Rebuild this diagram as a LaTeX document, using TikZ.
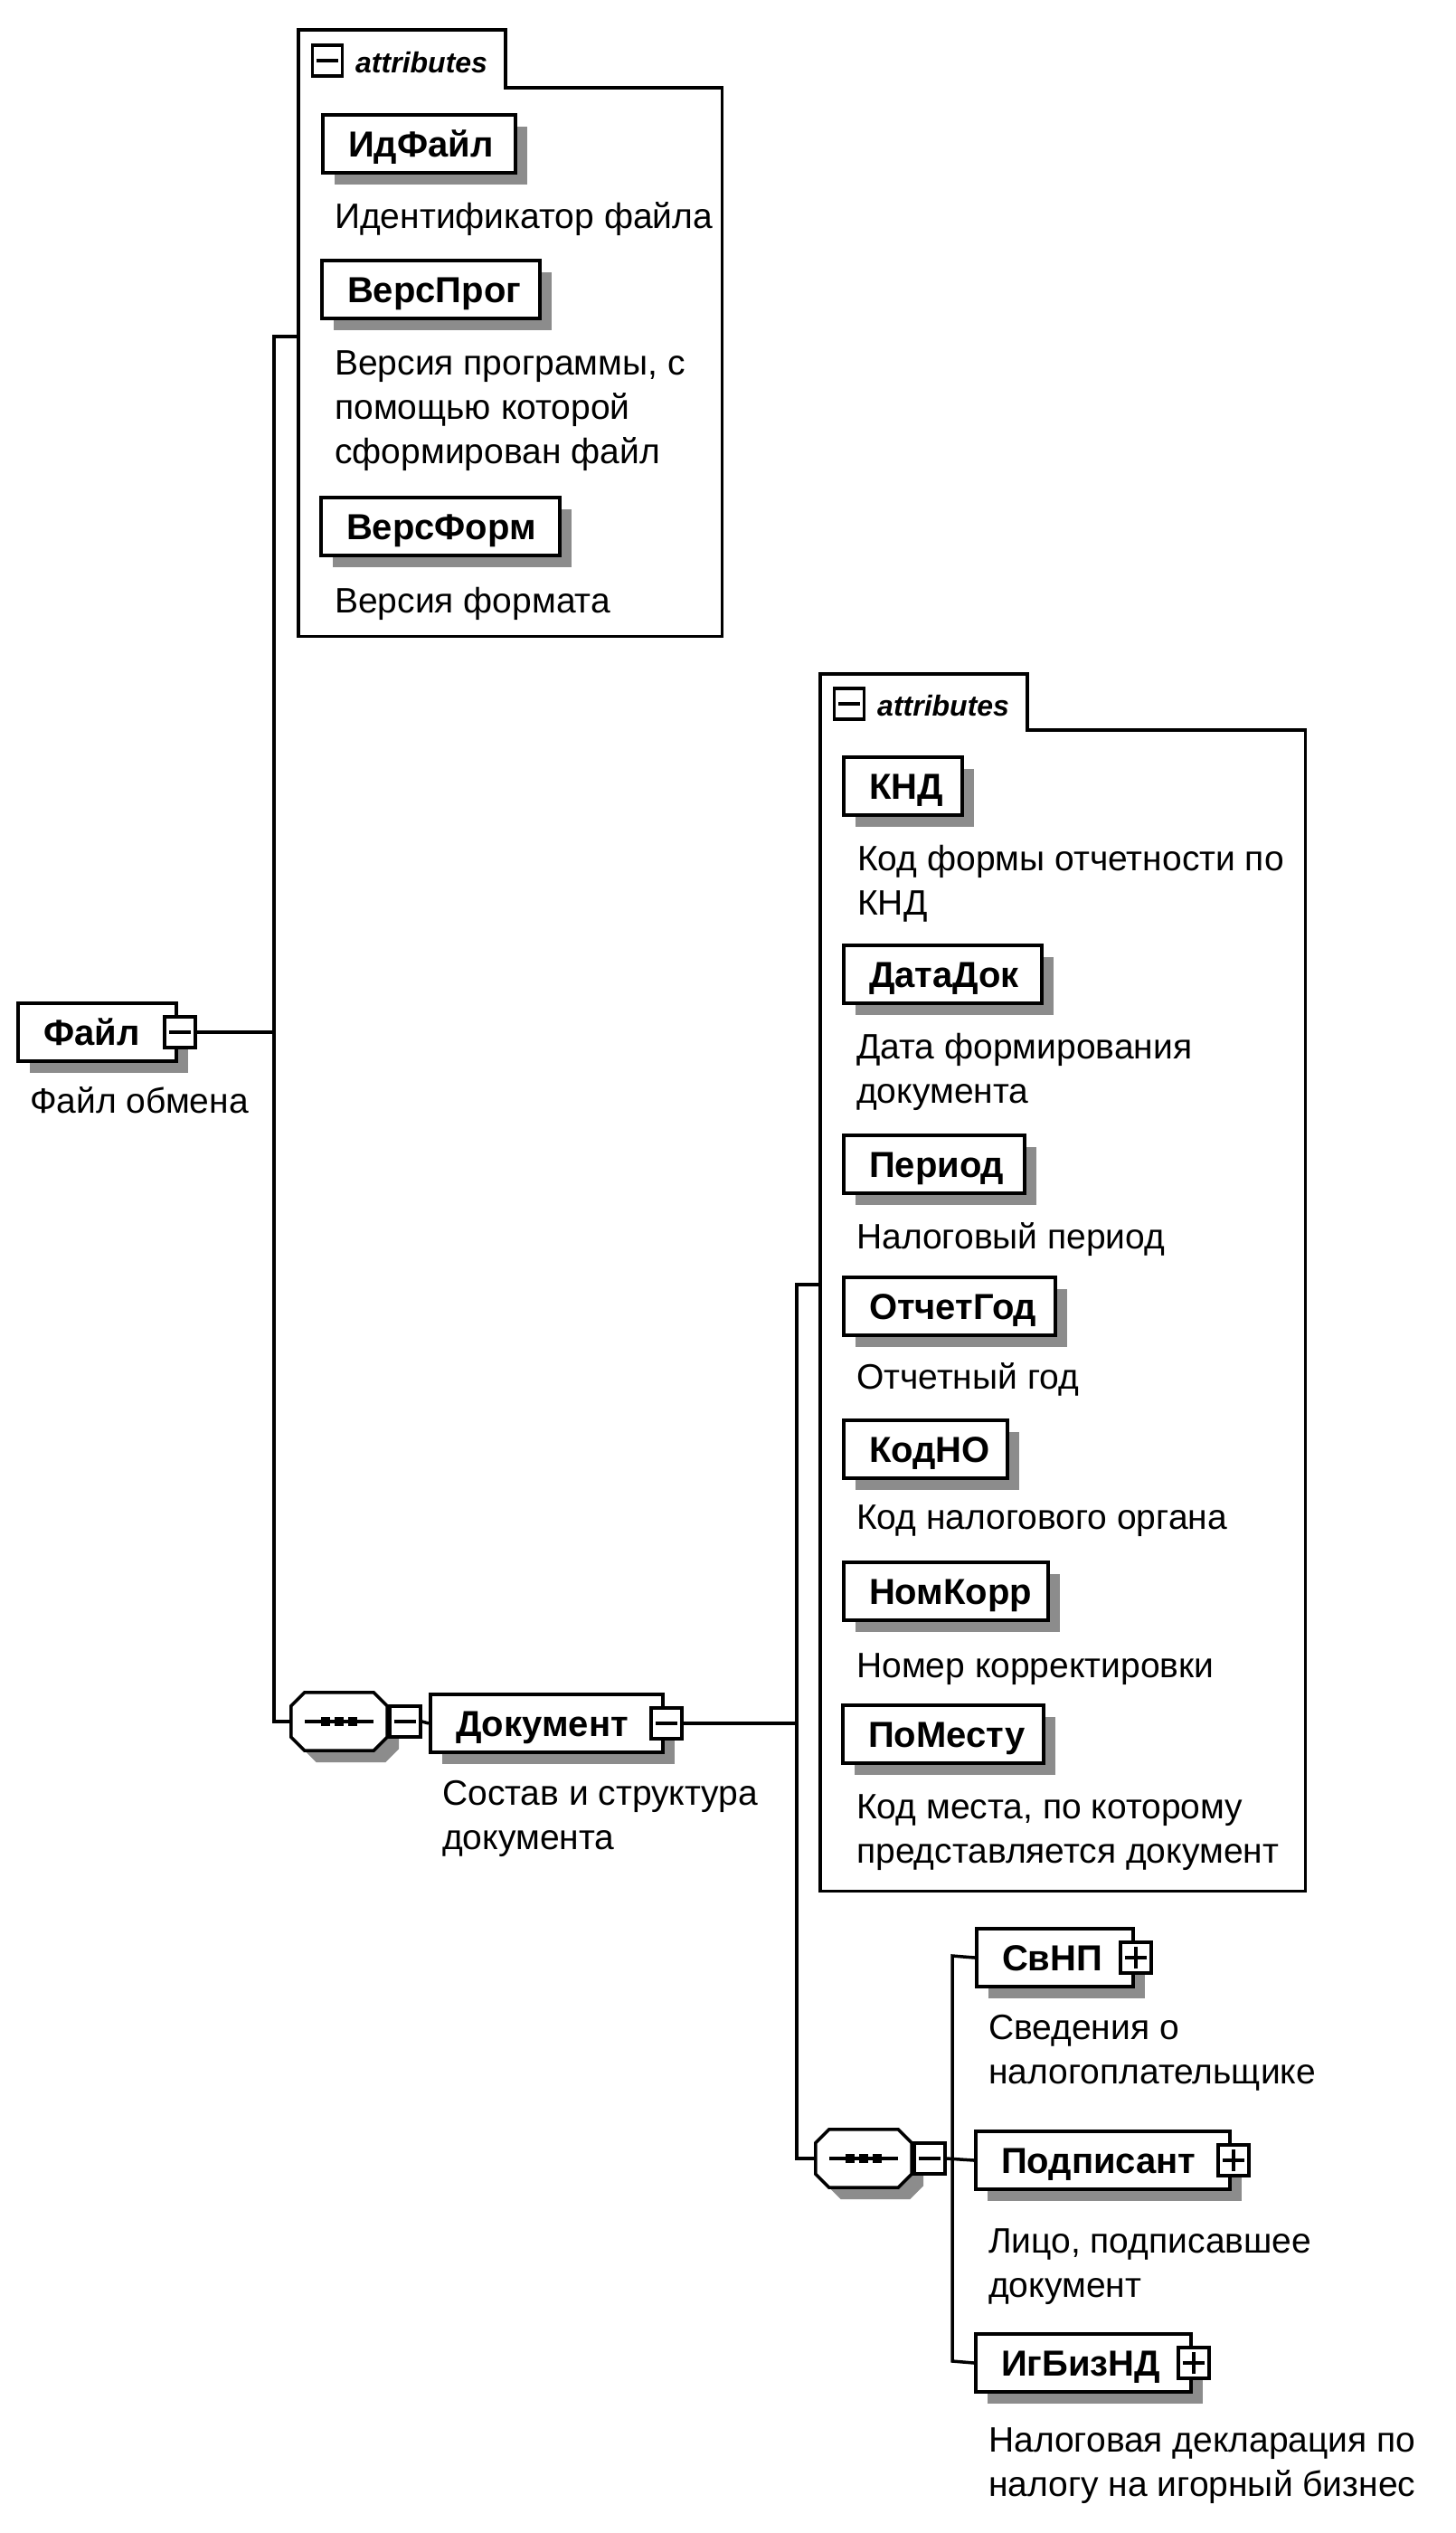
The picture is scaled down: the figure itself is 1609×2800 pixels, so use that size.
\documentclass[tikz,border=0pt]{standalone}
\usepackage{fontspec}
\setmainfont{Liberation Sans}
\usetikzlibrary{shadows}
\newcommand\firstln{\rule{0pt}{40pt}}
\newcommand\drawMinus[1]{\draw[line width=3.5pt] ([xshift=-12pt]#1.center) -- ([xshift=12pt]#1.center);}
\newcommand\drawPlus[1]{\drawMinus{#1}\draw[line width=3.5pt] ([yshift=-12pt]#1.center) -- ([yshift=12pt]#1.center);}
\begin{document}
\begin{tikzpicture}[x=1pt,y=-1pt,
 elem/.style={draw, line width=4pt, fill=white, anchor=north west, inner xsep=28pt, inner ysep=0pt,
   minimum height=64pt, align=left, text height=29pt, text depth=0pt,
   font=\fontsize{40}{40}\selectfont\bfseries,
   general shadow={fill=black!45, shadow xshift=13pt, shadow yshift=-13pt}},
 desc/.style={anchor=north west, inner sep=0pt, align=left, font=\fontsize{39}{49}\selectfont},
 icon/.style={draw, line width=3.5pt, fill=white, minimum width=34pt, minimum height=34pt, inner sep=0pt, anchor=west},
 tabicon/.style={draw, line width=3.5pt, fill=white, minimum width=33pt, minimum height=34pt, inner sep=0pt},
 attrtxt/.style={anchor=base west, inner sep=0pt, font=\fontsize{32}{32}\selectfont\bfseries\itshape},
 conn/.style={line width=3.5pt},
 frame/.style={line width=3.5pt},
 holder/.style={inner sep=0pt, anchor=north west}
]
\useasboundingbox (0,0) rectangle (1609,2800);

% ---------- attribute containers ----------
\node[holder, minimum width=468pt, minimum height=606pt] (att1) at (330,97) {};
\draw[frame, fill=white] (att1.south west) -- (att1.north west) -- ++(0,-64) -- ++(229,0) -- ++(0,64) -- (att1.north east) -- (att1.south east) -- cycle;
\node[tabicon] (att1m) at (362,67) {};
\drawMinus{att1m}
\node[attrtxt] (att1t) at (393,80) {attributes};

\node[holder, minimum width=536pt, minimum height=1283pt] (att2) at (907,807) {};
\draw[frame, fill=white] (att2.south west) -- (att2.north west) -- ++(0,-62) -- ++(229,0) -- ++(0,62) -- (att2.north east) -- (att2.south east) -- cycle;
\node[tabicon] (att2m) at (939,778) {};
\drawMinus{att2m}
\node[attrtxt] (att2t) at (970,791) {attributes};

% ---------- junction coordinates ----------
\coordinate (v1top) at (303,372);
\coordinate (v1bot) at (303,1903);
\coordinate (v2top) at (881,1420);
\coordinate (v2bot) at (881,2386);
\coordinate (v3top) at (1053,2162);
\coordinate (v3bot) at (1053,2610);

% ---------- elements ----------
\node[elem, minimum width=175pt, text width=119pt] (fayl) at (18,1107) {Файл};
\node[icon] (faylm) at ([xshift=-17pt]fayl.east) {};
\drawMinus{faylm}
\node[desc] (fayld) at (33,1190) {\firstln Файл обмена};

\node[elem, minimum width=213pt, text width=157pt] (idfayl) at (355,125) {ИдФайл};
\node[desc] (idfayld) at (370,212) {\firstln Идентификатор файла};

\node[elem, minimum width=241pt, text width=185pt] (versprog) at (354,286) {ВерсПрог};
\node[desc] (versprogd) at (370,374) {\firstln Версия программы, с\\помощью которой\\сформирован файл};

\node[elem, minimum width=264pt, text width=208pt] (versform) at (353,548) {ВерсФорм};
\node[desc] (versformd) at (370,637) {\firstln Версия формата};

\node[elem, minimum width=131pt, text width=75pt] (knd) at (931,835) {КНД};
\node[desc] (kndd) at (948,922) {\firstln Код формы отчетности по\\КНД};

\node[elem, minimum width=219pt, text width=163pt] (datadok) at (931,1043) {ДатаДок};
\node[desc] (datadokd) at (947,1130) {\firstln Дата формирования\\документа};

\node[elem, minimum width=200pt, text width=144pt] (period) at (931,1253) {Период};
\node[desc] (periodd) at (947,1340) {\firstln Налоговый период};

\node[elem, minimum width=234pt, text width=178pt] (otchgod) at (931,1410) {ОтчетГод};
\node[desc] (otchgodd) at (947,1495) {\firstln Отчетный год};

\node[elem, minimum width=181pt, text width=125pt] (kodno) at (931,1568) {КодНО};
\node[desc] (kodnod) at (947,1650) {\firstln Код налогового органа};

\node[elem, minimum width=226pt, text width=170pt] (nomkorr) at (931,1725) {НомКорр};
\node[desc] (nomkorrd) at (947,1814) {\firstln Номер корректировки};

\node[elem, minimum width=222pt, text width=166pt] (pomestu) at (930,1883) {ПоМесту};
\node[desc] (pomestud) at (947,1970) {\firstln Код места, по которому\\представляется документ};

% ---------- sequence compositors ----------
\node[holder, anchor=center, minimum width=106pt, minimum height=64pt] (seq1) at (375,1903) {};
\node[holder, anchor=center, minimum width=106pt, minimum height=64pt] (seq2) at (955,2386) {};
\foreach \s in {seq1,seq2} {
  \fill[black!45, transform canvas={shift={(13pt,-13pt)}}]
    ([xshift=15pt]\s.north west) -- ([xshift=-15pt]\s.north east) -- ([yshift=-15pt]\s.north east)
    -- ([yshift=15pt]\s.south east) -- ([xshift=-15pt]\s.south east) -- ([xshift=15pt]\s.south west)
    -- ([yshift=15pt]\s.south west) -- ([yshift=-15pt]\s.north west) -- cycle;
  \filldraw[fill=white, line width=3.5pt]
    ([xshift=15pt]\s.north west) -- ([xshift=-15pt]\s.north east) -- ([yshift=-15pt]\s.north east)
    -- ([yshift=15pt]\s.south east) -- ([xshift=-15pt]\s.south east) -- ([xshift=15pt]\s.south west)
    -- ([yshift=15pt]\s.south west) -- ([yshift=-15pt]\s.north west) -- cycle;
  \draw[line width=3.5pt] ([xshift=-38pt]\s.center) -- ([xshift=38pt]\s.center);
  \foreach \dx in {-15,0,15} {
    \fill ([xshift=\dx pt-5pt, yshift=-5pt]\s.center) rectangle ([xshift=\dx pt+5pt, yshift=5pt]\s.center);
  }
}
\node[icon] (seq1m) at ([xshift=1pt]seq1.east) {};
\drawMinus{seq1m}
\node[icon] (seq2m) at ([xshift=1pt]seq2.east) {};
\drawMinus{seq2m}

\node[elem, minimum width=257pt, text width=201pt] (dok) at (474,1871) {Документ};
\node[icon] (dokm) at ([xshift=-17pt]dok.east) {};
\drawMinus{dokm}
\node[desc] (dokd) at (489,1955) {\firstln Состав и структура\\документа};

\node[elem, minimum width=173pt, text width=117pt] (svnp) at (1078,2130) {СвНП};
\node[icon] (svnpm) at ([xshift=-18pt]svnp.east) {};
\drawPlus{svnpm}
\node[desc] (svnpd) at (1093,2214) {\firstln Сведения о\\налогоплательщике};

\node[elem, minimum width=281pt, text width=225pt] (podp) at (1077,2354) {Подписант};
\node[icon] (podpm) at ([xshift=-17pt]podp.east) {};
\drawPlus{podpm}
\node[desc] (podpd) at (1093,2450) {\firstln Лицо, подписавшее\\документ};

\node[elem, minimum width=238pt, text width=182pt] (igbiz) at (1077,2578) {ИгБизНД};
\node[icon] (igbizm) at ([xshift=-18pt]igbiz.east) {};
\drawPlus{igbizm}
\node[desc] (igbizd) at (1093,2670) {\firstln Налоговая декларация по\\налогу на игорный бизнес};

% ---------- connector lines ----------
\draw[conn] (faylm.east) -- (faylm.east -| v1top);
\draw[conn] (att1.west |- v1top) -- (v1top) -- (v1bot) -- (seq1.west);
\draw[conn] (seq1m.east) -- (dok.west);
\draw[conn] (dokm.east) -- (dokm.east -| v2top);
\draw[conn] (att2.west |- v2top) -- (v2top) -- (v2bot) -- (seq2.west);
\draw[conn] (seq2m.east) -- (podp.west);
\draw[conn] (svnp.west) -- (v3top) -- (v3bot) -- (igbiz.west);
\end{tikzpicture}
\end{document}
